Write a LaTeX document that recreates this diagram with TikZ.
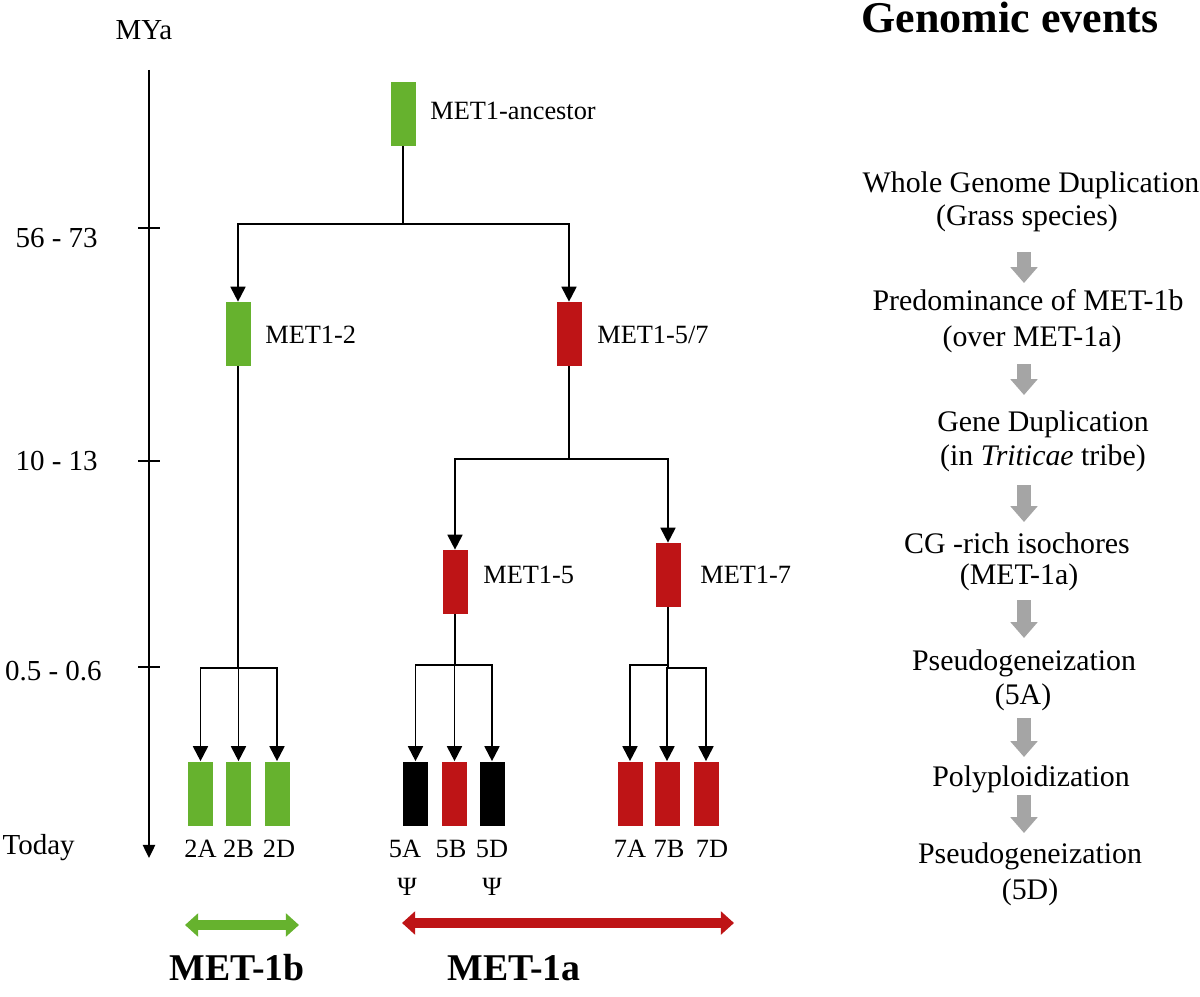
\documentclass[tikz,border=0pt]{standalone}
\usepackage{fontspec}
\setmainfont{Liberation Serif}
\usetikzlibrary{arrows.meta}
\definecolor{mgreen}{RGB}{102,178,46}
\definecolor{mred}{RGB}{190,20,22}
\definecolor{mgray}{RGB}{165,165,165}
\begin{document}
\begin{tikzpicture}[x=0.02cm,y=-0.02cm,
  genebox/.style={rectangle, inner sep=0pt, minimum width=0.5cm, minimum height=1.28cm},
  gbox/.style={genebox, fill=mgreen},
  rbox/.style={genebox, fill=mred},
  kbox/.style={genebox, fill=black},
  lbl/.style={font=\fontsize{15}{18}\selectfont, anchor=base west, inner sep=0pt},
  leaf/.style={font=\fontsize{15}{18}\selectfont, anchor=base, inner sep=0pt},
  axl/.style={font=\fontsize{16.5}{20}\selectfont, anchor=base east, inner sep=0pt},
  evt/.style={font=\fontsize{17}{20}\selectfont, anchor=base, inner sep=0pt},
  big/.style={font=\fontsize{21.5}{26}\selectfont\bfseries, anchor=base, inner sep=0pt},
  tree/.style={line width=1.13pt, black},
  treearr/.style={tree, -{Triangle[width=8.5pt,length=8.5pt]}},
  axisline/.style={line width=1.13pt, black, -{Triangle[width=7pt,length=7.5pt]}},
  grayarr/.style={draw=mgray, line width=8pt, -{Triangle[width=15pt,length=9pt]}},
  span/.style={line width=5.7pt, {Triangle[width=13pt,length=7.5pt]}-{Triangle[width=13pt,length=7.5pt]}}
]
\useasboundingbox (0,0) rectangle (1200,997);

% time axis
\coordinate (axtop) at (149,70);
\coordinate (axbot) at (149,858);
\draw[axisline] (axtop) -- (axbot);
\coordinate (t1) at (149,228);
\coordinate (t2) at (149,461);
\coordinate (t3) at (149,667);
\foreach \t in {t1,t2,t3} \draw[tree] ([xshift=-0.22cm]\t) -- ([xshift=0.22cm]\t);
\node[font=\fontsize{16.5}{20}\selectfont, anchor=base, inner sep=0pt] (mya) at (144,40) {MYa};
\node[axl] (a1) at (98,247) {56 - 73};
\node[axl] (a2) at (98,470) {10 - 13};
\node[axl] (a3) at (102,680) {0.5 - 0.6};
\node[axl] (a4) at (75,854) {Today};

% internal nodes
\node[gbox] (anc) at (403,114) {};
\node[lbl] (ancl) at (430,120) {MET1-ancestor};
\node[gbox] (m2) at (238,334) {};
\node[lbl] (m2l) at (265,343) {MET1-2};
\node[rbox] (m57) at (569,334) {};
\node[lbl] (m57l) at (597,343) {MET1-5/7};
\node[rbox] (m5) at (455,582) {};
\node[lbl] (m5l) at (483,583) {MET1-5};
\node[rbox] (m7) at (668,575) {};
\node[lbl] (m7l) at (700,583) {MET1-7};

% leaves
\node[gbox] (l2A) at (200.5,793.5) {};
\node[gbox] (l2B) at (238.5,793.5) {};
\node[gbox] (l2D) at (277,793.5) {};
\node[kbox] (l5A) at (415.5,793.5) {};
\node[rbox] (l5B) at (454.5,793.5) {};
\node[kbox] (l5D) at (492,793.5) {};
\node[rbox] (l7A) at (630,793.5) {};
\node[rbox] (l7B) at (667,793.5) {};
\node[rbox] (l7D) at (706,793.5) {};

\node[leaf] at (200.5,857) {2A};
\node[leaf] at (238.5,857) {2B};
\node[leaf] at (279,857) {2D};
\node[leaf] at (405,857) {5A};
\node[leaf] at (451,857) {5B};
\node[leaf] at (492,857) {5D};
\node[leaf] at (630,857) {7A};
\node[leaf] at (669,857) {7B};
\node[leaf] at (712,857) {7D};
\node[leaf] (psi1) at (407,895) {Ψ};
\node[leaf] (psi2) at (492,895) {Ψ};

% connectors
\coordinate (j0) at (403,224);
\draw[tree] (anc.south) -- (j0);
\draw[treearr] (j0) -| (m2.north);
\draw[treearr] (j0) -| (m57.north);

\coordinate (j1) at (569,459);
\draw[tree] (m57.south) -- (j1);
\draw[treearr] (j1) -| (m5.north);
\draw[treearr] (j1) -| (m7.north);

\coordinate (j2) at (238,668);
\draw[tree] (m2.south) -- (j2);
\draw[treearr] (j2) -| (l2A.north);
\draw[treearr] (j2) -| (l2B.north);
\draw[treearr] (j2) -| (l2D.north);

\coordinate (j3) at (455,665);
\draw[tree] (m5.south) -- (j3);
\draw[treearr] (j3) -| (l5A.north);
\draw[treearr] (j3) -| (l5B.north);
\draw[treearr] (j3) -| (l5D.north);

\coordinate (j4) at (668,665);
\coordinate (j4b) at (668,668);
\draw[tree] (m7.south) -- (j4b);
\draw[treearr] (j4) -| (l7A.north);
\draw[treearr] (j4b) -| (l7B.north);
\draw[treearr] (j4b) -| (l7D.north);

% bottom spans
\coordinate (gs1) at (185,925);
\coordinate (gs2) at (299,925);
\draw[span, draw=mgreen, fill=mgreen] (gs1) -- (gs2);
\coordinate (rs1) at (402,923);
\coordinate (rs2) at (734,923);
\draw[span, draw=mred, fill=mred] (rs1) -- (rs2);
\node[big] (b1) at (237,980) {MET-1b};
\node[big] (b2) at (514,980) {MET-1a};

% genomic events
\node[font=\fontsize{25}{30}\selectfont\bfseries, anchor=base, inner sep=0pt] (ge) at (1010,33) {Genomic events};
\node[evt] (e1) at (1031,193) {Whole Genome Duplication};
\node[evt] (e1b) at (1027,225) {(Grass species)};
\node[evt] (e2) at (1028,310) {Predominance of MET-1b};
\node[evt] (e2b) at (1032,346) {(over MET-1a)};
\node[evt] (e3) at (1043,431) {Gene Duplication};
\node[evt] (e3b) at (1043,465) {(in \textit{Triticae} tribe)};
\node[evt] (e4) at (1017,553) {CG -rich isochores};
\node[evt] (e4b) at (1019,584) {(MET-1a)};
\node[evt] (e5) at (1024,670) {Pseudogeneization};
\node[evt] (e5b) at (1023,704) {(5A)};
\node[evt] (e6) at (1031,786) {Polyploidization};
\node[evt] (e7) at (1030,863) {Pseudogeneization};
\node[evt] (e7b) at (1030,899) {(5D)};

\coordinate (g1a) at (1024,252); \coordinate (g1b) at (1024,283);
\coordinate (g2a) at (1024,364); \coordinate (g2b) at (1024,395);
\coordinate (g3a) at (1024,485); \coordinate (g3b) at (1024,522);
\coordinate (g4a) at (1024,600); \coordinate (g4b) at (1024,638);
\coordinate (g5a) at (1024,718); \coordinate (g5b) at (1024,757);
\coordinate (g6a) at (1024,795); \coordinate (g6b) at (1024,833);
\foreach \a/\b in {g1a/g1b,g2a/g2b,g3a/g3b,g4a/g4b,g5a/g5b,g6a/g6b}
  \draw[grayarr] (\a) -- (\b);
\end{tikzpicture}
\end{document}
